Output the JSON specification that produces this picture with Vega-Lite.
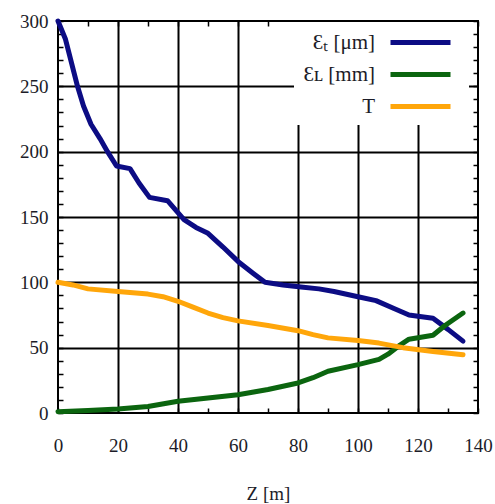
{
  "$schema": "https://vega.github.io/schema/vega-lite/v6.json",
  "width": 420,
  "height": 392,
  "autosize": "none",
  "padding": {"left": 58, "top": 21, "right": 17, "bottom": 91},
  "background": "white",
  "config": {
    "view": {"stroke": "black", "strokeWidth": 2},
    "font": "Liberation Serif",
    "axis": {
      "domain": false,
      "labelFont": "Liberation Serif",
      "labelFontSize": 19,
      "labelColor": "#1c1c28",
      "labelFlush": false,
      "tickColor": "black",
      "tickWidth": 1.5,
      "tickSize": -5,
      "gridColor": "black",
      "gridWidth": 2,
      "titleFont": "Liberation Serif",
      "titleFontSize": 19,
      "titleFontWeight": "normal",
      "titleColor": "#1c1c28"
    }
  },
  "data": {
    "values": [
      {"series": "Ɛₜ [μm]", "z": 0, "v": 300},
      {"series": "Ɛₜ [μm]", "z": 2.5, "v": 286},
      {"series": "Ɛₜ [μm]", "z": 4.5, "v": 268},
      {"series": "Ɛₜ [μm]", "z": 6.5, "v": 250},
      {"series": "Ɛₜ [μm]", "z": 8.5, "v": 235},
      {"series": "Ɛₜ [μm]", "z": 11, "v": 221},
      {"series": "Ɛₜ [μm]", "z": 14, "v": 210},
      {"series": "Ɛₜ [μm]", "z": 16.5, "v": 200},
      {"series": "Ɛₜ [μm]", "z": 19.5, "v": 189},
      {"series": "Ɛₜ [μm]", "z": 24, "v": 187},
      {"series": "Ɛₜ [μm]", "z": 27, "v": 176},
      {"series": "Ɛₜ [μm]", "z": 30.5, "v": 165},
      {"series": "Ɛₜ [μm]", "z": 36.5, "v": 162.5},
      {"series": "Ɛₜ [μm]", "z": 42, "v": 148},
      {"series": "Ɛₜ [μm]", "z": 46, "v": 142},
      {"series": "Ɛₜ [μm]", "z": 50, "v": 137.5},
      {"series": "Ɛₜ [μm]", "z": 55, "v": 127},
      {"series": "Ɛₜ [μm]", "z": 60, "v": 116},
      {"series": "Ɛₜ [μm]", "z": 65, "v": 107},
      {"series": "Ɛₜ [μm]", "z": 69, "v": 100},
      {"series": "Ɛₜ [μm]", "z": 75, "v": 98},
      {"series": "Ɛₜ [μm]", "z": 81, "v": 96.5},
      {"series": "Ɛₜ [μm]", "z": 87, "v": 95},
      {"series": "Ɛₜ [μm]", "z": 92, "v": 93},
      {"series": "Ɛₜ [μm]", "z": 100, "v": 89},
      {"series": "Ɛₜ [μm]", "z": 106, "v": 86},
      {"series": "Ɛₜ [μm]", "z": 112, "v": 80},
      {"series": "Ɛₜ [μm]", "z": 117, "v": 75},
      {"series": "Ɛₜ [μm]", "z": 120, "v": 74},
      {"series": "Ɛₜ [μm]", "z": 125, "v": 72.5},
      {"series": "Ɛₜ [μm]", "z": 130, "v": 64},
      {"series": "Ɛₜ [μm]", "z": 135, "v": 55},
      {"series": "Ɛʟ [mm]", "z": 0, "v": 1},
      {"series": "Ɛʟ [mm]", "z": 10, "v": 2},
      {"series": "Ɛʟ [mm]", "z": 20, "v": 3},
      {"series": "Ɛʟ [mm]", "z": 30, "v": 5},
      {"series": "Ɛʟ [mm]", "z": 40, "v": 9},
      {"series": "Ɛʟ [mm]", "z": 50, "v": 11.5},
      {"series": "Ɛʟ [mm]", "z": 60, "v": 14},
      {"series": "Ɛʟ [mm]", "z": 70, "v": 18},
      {"series": "Ɛʟ [mm]", "z": 80, "v": 23},
      {"series": "Ɛʟ [mm]", "z": 85, "v": 27},
      {"series": "Ɛʟ [mm]", "z": 90, "v": 32},
      {"series": "Ɛʟ [mm]", "z": 100, "v": 37},
      {"series": "Ɛʟ [mm]", "z": 107, "v": 41},
      {"series": "Ɛʟ [mm]", "z": 110, "v": 45},
      {"series": "Ɛʟ [mm]", "z": 114, "v": 52},
      {"series": "Ɛʟ [mm]", "z": 117, "v": 56.5},
      {"series": "Ɛʟ [mm]", "z": 125, "v": 59.5},
      {"series": "Ɛʟ [mm]", "z": 129, "v": 67},
      {"series": "Ɛʟ [mm]", "z": 135, "v": 76.5},
      {"series": "T", "z": 0, "v": 100},
      {"series": "T", "z": 5, "v": 98},
      {"series": "T", "z": 10, "v": 95},
      {"series": "T", "z": 20, "v": 93},
      {"series": "T", "z": 30, "v": 91},
      {"series": "T", "z": 35, "v": 89},
      {"series": "T", "z": 40, "v": 85.5},
      {"series": "T", "z": 45, "v": 81},
      {"series": "T", "z": 50, "v": 76.5},
      {"series": "T", "z": 55, "v": 73},
      {"series": "T", "z": 60, "v": 70.5},
      {"series": "T", "z": 70, "v": 67},
      {"series": "T", "z": 80, "v": 63},
      {"series": "T", "z": 85, "v": 60},
      {"series": "T", "z": 90, "v": 57.5},
      {"series": "T", "z": 100, "v": 55.5},
      {"series": "T", "z": 107, "v": 53.5},
      {"series": "T", "z": 115, "v": 50},
      {"series": "T", "z": 125, "v": 47},
      {"series": "T", "z": 135, "v": 44.5}
    ]
  },
  "layer": [
    {
      "mark": {"type": "line", "strokeCap": "round", "strokeJoin": "round"},
      "encoding": {
        "x": {
          "field": "z", "type": "quantitative",
          "scale": {"domain": [0, 140], "nice": false},
          "axis": {
            "orient": "bottom",
            "values": [0, 10, 20, 30, 40, 50, 60, 70, 80, 90, 100, 110, 120, 130, 140],
            "labelExpr": "datum.value % 20 === 0 ? datum.label : ''",
            "labelFont": "Liberation Serif",
            "labelPadding": 28,
            "grid": true,
            "gridOpacity": {"condition": {"test": "datum.value % 20 === 0 && datum.value > 0 && datum.value < 140", "value": 1}, "value": 0},
            "title": "Z [m]",
            "titlePadding": 29
          }
        },
        "y": {
          "field": "v", "type": "quantitative",
          "scale": {"domain": [0, 300], "nice": false},
          "axis": {
            "orient": "left",
            "values": [0, 10, 20, 30, 40, 50, 60, 70, 80, 90, 100, 110, 120, 130, 140, 150, 160, 170, 180, 190, 200, 210, 220, 230, 240, 250, 260, 270, 280, 290, 300],
            "labelExpr": "datum.value % 50 === 0 ? datum.label : ''",
            "labelFont": "Liberation Serif",
            "labelPadding": 15,
            "grid": true,
            "gridOpacity": {"condition": {"test": "datum.value % 50 === 0 && datum.value > 0 && datum.value < 300", "value": 1}, "value": 0},
            "title": null
          }
        },
        "color": {
          "field": "series", "type": "nominal",
          "scale": {"domain": ["Ɛₜ [μm]", "Ɛʟ [mm]", "T"], "range": ["#0c0c84", "#0b650f", "#ffa60a"]},
          "legend": {
            "orient": "none",
            "legendX": 236,
            "legendY": 1,
            "title": null,
            "fillColor": "white",
            "padding": 8,
            "symbolType": "M-3,0H3",
            "symbolSize": 400,
            "symbolStrokeWidth": 5,
            "symbolOffset": 106,
            "labelAlign": "right",
            "labelOffset": -58,
            "labelFont": "Liberation Serif",
            "labelFontSize": 21,
            "labelColor": "#1c1c28",
            "labelLimit": 200,
            "rowPadding": 9
          }
        },
        "strokeWidth": {
          "field": "series", "type": "nominal",
          "scale": {"domain": ["Ɛₜ [μm]", "Ɛʟ [mm]", "T"], "range": [5, 5, 3.5]},
          "legend": null
        }
      }
    },
    {
      "mark": {"type": "line", "opacity": 0},
      "encoding": {
        "x": {
          "field": "z", "type": "quantitative",
          "axis": {
            "orient": "top",
            "values": [0, 10, 20, 30, 40, 50, 60, 70, 80, 90, 100, 110, 120, 130, 140],
            "labels": false, "grid": false, "title": null
          }
        },
        "y": {
          "field": "v", "type": "quantitative",
          "axis": {
            "orient": "right",
            "values": [0, 10, 20, 30, 40, 50, 60, 70, 80, 90, 100, 110, 120, 130, 140, 150, 160, 170, 180, 190, 200, 210, 220, 230, 240, 250, 260, 270, 280, 290, 300],
            "labels": false, "grid": false, "title": null
          }
        },
        "detail": {"field": "series", "type": "nominal"}
      }
    }
  ],
  "resolve": {"axis": {"x": "independent", "y": "independent"}}
}
